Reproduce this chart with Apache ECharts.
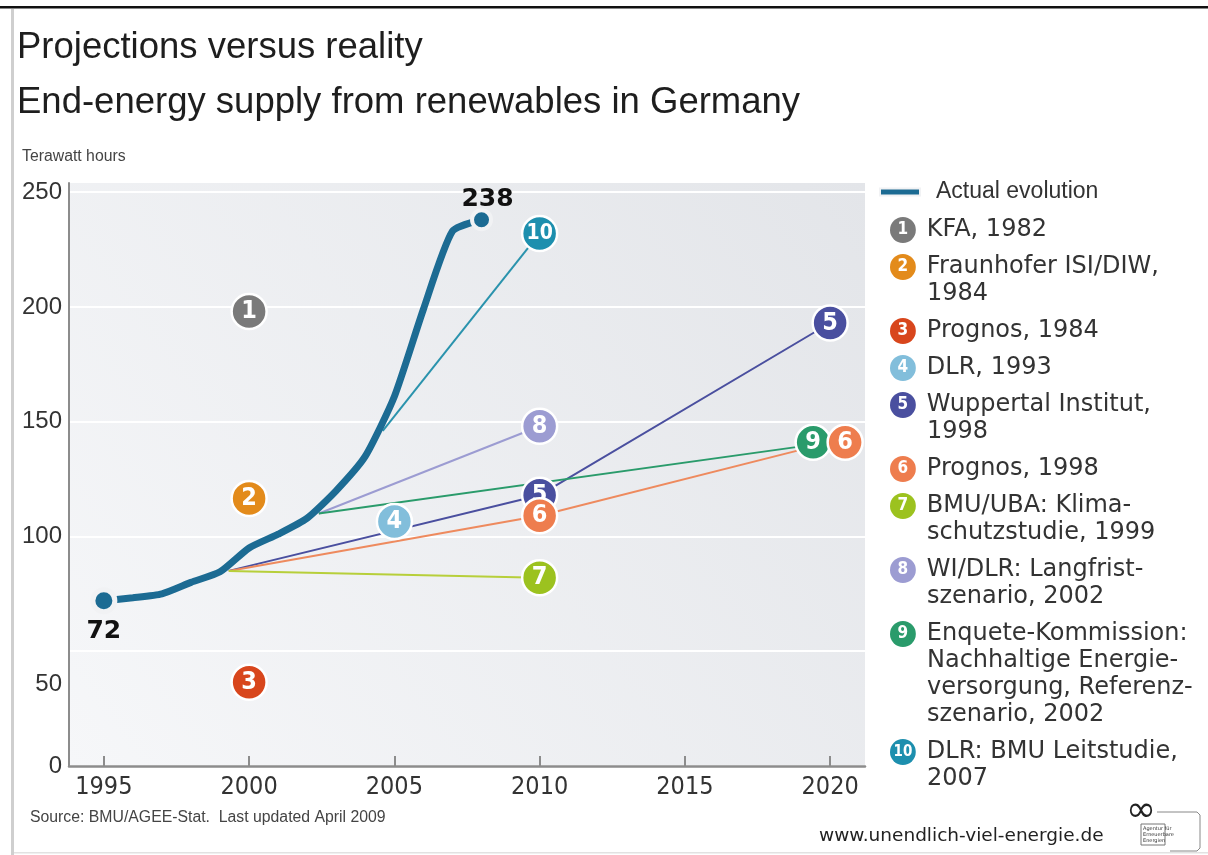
<!DOCTYPE html>
<html><head><meta charset="utf-8">
<script src="https://cdn.jsdelivr.net/npm/echarts@6/dist/echarts.min.js"></script>
<style>html,body{margin:0;padding:0;background:#fff}#c{width:1208px;height:855px}</style>
</head><body><div id="c"></div>
<script>
// ---- data ----
const years  = [1995, 1996, 1997, 1998, 1999, 2000, 2001, 2002, 2003, 2004, 2005, 2006, 2007, 2008];
const actual = [72, 73.3, 75, 80, 84.6, 95, 101, 108, 120, 135, 161, 199, 233, 238];
const projNames = [
  'KFA, 1982',
  'Fraunhofer ISI/DIW,\n1984',
  'Prognos, 1984',
  'DLR, 1993',
  'Wuppertal Institut,\n1998',
  'Prognos, 1998',
  'BMU/UBA: Klima-\nschutzstudie, 1999',
  'WI/DLR: Langfrist-\nszenario, 2002',
  'Enquete-Kommission:\nNachhaltige Energie-\nversorgung, Referenz-\nszenario, 2002',
  'DLR: BMU Leitstudie,\n2007'
];
const projNums = ['1','2','3','4','5','6','7','8','9','10'];
const p1  = [[2000, 198]];
const p2  = [[2000, 116.5]];
const p3  = [[2000, 36.5]];
const p4  = [[2005, 106.5]];
const p5  = [[1999.3, 85], [2010, 118], [2020, 193]];
const p6  = [[1999.3, 85], [2010, 109], [2020, 141]];
const p7  = [[1999.3, 85], [2010, 82]];
const p8  = [[2002.4, 110], [2010, 148]];
const p9  = [[2002.4, 110], [2020, 141]];
const p10 = [[2004.6, 146], [2010, 232]];
const projData = [p1, p2, p3, p4, p5, p6, p7, p8, p9, p10];
const xTicks = [1995, 2000, 2005, 2010, 2015, 2020];
const yTicks = [0, 50, 100, 150, 200, 250];

// ---- styles ----
const projColors = ['#7a7a7a','#e38b1b','#d8461c','#82bedb','#4a4f9f','#ee7d4e','#9cc21f','#9c9cd2','#2a9b6b','#1d8fae'];
const lineColors = ['#7a7a7a','#e38b1b','#d8461c','#82bedb','#4a4f9f','#ee8a5e','#b7cf3a','#9c9cd2','#2a9b6b','#2a93ad'];
const ACT = '#1c6b93';
const ARIAL = "'Liberation Sans',Arial,sans-serif";
const COND = "'DejaVu Sans Condensed','DejaVu Sans',sans-serif";
const DIN = "'DejaVu Sans',sans-serif";

const chart = echarts.init(document.getElementById('c'), null, {renderer: 'canvas'});

const series = [];
// projection lines
projData.forEach((d, i) => {
  if (d.length > 1) {
    series.push({
      name: projNames[i], type: 'line', data: d, symbol: 'none', z: 2, silent: true,
      lineStyle: {color: lineColors[i], width: 2}, itemStyle: {color: projColors[i]},
      emphasis: {disabled: true}
    });
  }
});
// actual evolution
series.push({
  name: 'Actual evolution', type: 'line', z: 3, smooth: 0.2, silent: true,
  emphasis: {disabled: true},
  lineStyle: {color: ACT, width: 7},
  itemStyle: {color: ACT, borderColor: '#f1f2f4', borderWidth: 5},
  data: years.map((y, i) => {
    const item = {value: [y, actual[i]]};
    if (i === 0) {
      item.symbol = 'circle'; item.symbolSize = 22;
      item.label = {show: true, position: 'bottom', distance: 5, formatter: String(actual[i]),
        fontFamily: DIN, fontWeight: 'bold', fontSize: 25, color: '#111'};
    } else if (i === years.length - 1) {
      item.symbol = 'circle'; item.symbolSize = 19;
      item.itemStyle = {borderWidth: 4};
      item.label = {show: true, position: 'top', distance: -4, offset: [6, 0], formatter: String(actual[i]),
        fontFamily: DIN, fontWeight: 'bold', fontSize: 25, color: '#111'};
    } else {
      item.symbol = 'none';
    }
    return item;
  })
});
// projection markers
projData.forEach((d, i) => {
  const pts = d.length > 1 ? d.slice(1) : d;
  series.push({
    name: projNames[i], type: 'scatter', z: (i === 5 ? 7 : 5), silent: true,
    emphasis: {disabled: true},
    symbolSize: 35,
    itemStyle: {color: projColors[i], borderColor: '#ffffff', borderWidth: 2.5, opacity: 1},
    label: {show: true, position: 'inside', formatter: projNums[i], color: '#fff',
      fontFamily: COND, fontWeight: 'bold',
      fontSize: projNums[i].length > 1 ? 21 : 25},
    data: pts.map(p => {
      const it = {value: p};
      if (i === 8 && p[0] === 2020) it.symbolOffset = [-17, 0];
      if (i === 5 && p[0] === 2020) it.symbolOffset = [15, 0];
      return it;
    })
  });
});

// legend rich text
const rich = {
  t: {fontFamily: DIN, fontSize: 24, color: '#333', lineHeight: 27},
  s: {width: 11, lineHeight: 27},
  ind: {width: 37, lineHeight: 27}
};
projColors.forEach((c, i) => {
  const two = projNums[i].length > 1;
  rich['c' + i] = {backgroundColor: c, color: '#fff', height: 26, lineHeight: 26,
    borderRadius: 13, padding: two ? [0, 3.5, 0, 3.5] : [0, 7.6, 0, 7.6],
    fontSize: two ? 15 : 17, fontWeight: 'bold', fontFamily: COND};
});

const option = {
  animation: false,
  backgroundColor: '#ffffff',
  title: [
    {text: 'Projections versus reality\nEnd-energy supply from renewables in Germany', left: 17, top: 20, padding: 0,
      textStyle: {fontFamily: ARIAL, fontSize: 36.5, fontWeight: 'normal', color: '#1e1e1e', lineHeight: 55}},
    {text: 'Terawatt hours', left: 22, top: 149, padding: 0,
      textStyle: {fontFamily: ARIAL, fontSize: 15.8, fontWeight: 'normal', color: '#444'}},
    {text: 'Source: BMU/AGEE-Stat.  Last updated April 2009', left: 30, top: 810, padding: 0,
      textStyle: {fontFamily: ARIAL, fontSize: 15.8, fontWeight: 'normal', color: '#444'}},
    {text: 'www.unendlich-viel-energie.de', left: 819, top: 827, padding: 0,
      textStyle: {fontFamily: DIN, fontSize: 18.5, fontWeight: 'normal', color: '#222'}}
  ],
  legend: [
    {data: [{name: 'Actual evolution', icon: 'rect'}], left: 879, top: 178, orient: 'vertical',
      itemWidth: 40, itemHeight: 7, selectedMode: false, padding: 0,
      itemStyle: {color: ACT},
      textStyle: {fontFamily: ARIAL, fontSize: 23, color: '#333', lineHeight: 28, padding: [0, 0, 0, 11]}},
    {data: projNames, left: 884, top: 216.5, orient: 'vertical', itemWidth: 0, itemHeight: 0,
      itemGap: 10, selectedMode: false, padding: 0,
      formatter: name => {
        const i = projNames.indexOf(name);
        return name.split('\n').map((l, k) => k === 0 ? `{c${i}|${projNums[i]}}{s| }{t|${l}}` : `{ind| }{t|${l}}`).join('\n');
      },
      textStyle: {fontFamily: DIN, fontSize: 24, color: '#333', lineHeight: 27, rich: rich}}
  ],
  grid: {left: 69, right: 343, top: 183, bottom: 89, show: true, borderWidth: 0,
    backgroundColor: {type: 'linear', x: 0, y: 1, x2: 1, y2: 0,
      colorStops: [{offset: 0, color: '#f6f7f9'}, {offset: 1, color: '#e3e5e9'}]}},
  xAxis: {
    type: 'value', min: 1993.8, max: 2021.2,
    axisLine: {show: true, lineStyle: {color: '#8c8c8c', width: 2.5}},
    axisTick: {show: true, inside: true, length: 10, customValues: xTicks, lineStyle: {color: '#8c8c8c', width: 2}},
    axisLabel: {customValues: xTicks, formatter: v => String(v), fontFamily: COND, fontSize: 25, color: '#333', margin: 9},
    splitLine: {show: false}
  },
  yAxis: {
    type: 'value', min: 0, max: 254, interval: 50,
    axisLine: {show: true, lineStyle: {color: '#8c8c8c', width: 2}},
    axisTick: {show: false},
    splitLine: {show: true, showMaxLine: false, lineStyle: {color: '#ffffff', width: 2}},
    axisLabel: {
      showMaxLabel: false, margin: 7, fontFamily: ARIAL, fontSize: 24, color: '#333',
      formatter: v => (yTicks.indexOf(v) < 0 ? '' : (v === 50 ? '{low|50}' : String(v))),
      rich: {low: {padding: [66, 0, 0, 0], fontFamily: ARIAL, fontSize: 24, color: '#333'}}
    }
  },
  graphic: [
    {type: 'rect', shape: {x: 0, y: 6, width: 1208, height: 2.5}, style: {fill: '#111'}, silent: true},
    {type: 'rect', shape: {x: 11, y: 9, width: 3, height: 846}, style: {fill: '#cfcfcf'}, silent: true},
    {type: 'rect', shape: {x: 14, y: 852, width: 1194, height: 1.5}, style: {fill: '#e2e2e2'}, silent: true},
    {type: 'text', x: 1141, y: 812, style: {text: '\u221E', font: "36px 'DejaVu Sans'", fill: '#222', align: 'center', verticalAlign: 'middle'}, silent: true},
    {type: 'polyline', shape: {points: [[1157, 812], [1197, 812], [1200, 815], [1200, 848], [1197, 851], [1170, 851]]}, style: {stroke: '#888', lineWidth: 1, fill: null}, silent: true},
    {type: 'rect', shape: {x: 1141, y: 824, width: 24, height: 21}, style: {fill: '#fff', stroke: '#777', lineWidth: 1}, silent: true},
    {type: 'text', x: 1143, y: 826, style: {text: 'Agentur f\u00fcr\nErneuerbare\nEnergien', font: "5px 'DejaVu Sans'", fill: '#333', lineHeight: 6}, silent: true}
  ],
  series: series
};
chart.setOption(option);
</script>
</body></html>
